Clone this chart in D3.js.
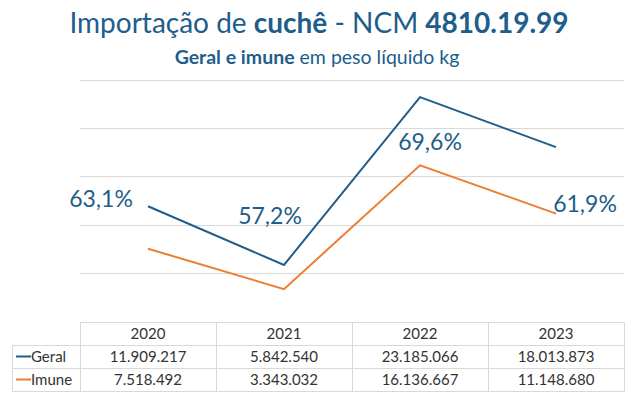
<!DOCTYPE html>
<html>
<head>
<meta charset="utf-8">
<script src="https://cdn.jsdelivr.net/npm/d3@7"></script>
<style>
  body { margin: 0; background: #fff; }
  svg { font-family: Lato, "Open Sans", sans-serif; }
</style>
</head>
<body>
<div id="chart"></div>
<script>
const years = ["2020", "2021", "2022", "2023"];
const geral = [11909217, 5842540, 23185066, 18013873];
const imune = [7518492, 3343032, 16136667, 11148680];
const pctLabels = ["63,1%", "57,2%", "69,6%", "61,9%"];
const yTicks = [0, 5000000, 10000000, 15000000, 20000000, 25000000];

// where each percentage label sits, relative to a point of a series
const labelPos = [
  { s: "geral", dx: -47, dy: 1 },
  { s: "geral", dx: -14, dy: -41 },
  { s: "imune", dx: 10, dy: -15 },
  { s: "imune", dx: 29, dy: -2 }
];

const blue = "#215d8a";
const orange = "#ed7d31";
const grid = "#d9d9d9";

const width = 634, height = 395;

const svg = d3.select("#chart").append("svg")
  .attr("width", width)
  .attr("height", height);

const x = d3.scaleBand()
  .domain(years)
  .range([80, 624]);

const y = d3.scaleLinear()
  .domain([0, 25000000])
  .range([321.5, 79.5]);

const fmt = d3.formatLocale({ decimal: ",", thousands: ".", grouping: [3], currency: ["", ""] }).format(",d");

// title
const title = svg.append("text")
  .attr("x", 319)
  .attr("y", 33)
  .attr("text-anchor", "middle")
  .attr("fill", blue)
  .style("font-size", "28px");
title.append("tspan").text("Importação de ");
title.append("tspan").attr("font-weight", "bold").text("cuchê");
title.append("tspan").text(" - NCM ");
title.append("tspan").attr("font-weight", "bold").text("4810.19.99");

const sub = svg.append("text")
  .attr("x", 317)
  .attr("y", 64)
  .attr("text-anchor", "middle")
  .attr("fill", blue)
  .style("font-size", "19.5px");
sub.append("tspan").attr("font-weight", "bold").text("Geral e imune");
sub.append("tspan").text(" em peso líquido kg");

// gridlines
svg.append("g")
  .selectAll("line")
  .data(yTicks)
  .enter()
  .append("line")
  .attr("x1", 80)
  .attr("x2", 624)
  .attr("y1", d => Math.round(y(d)) + 0.5)
  .attr("y2", d => Math.round(y(d)) + 0.5)
  .attr("stroke", grid)
  .attr("stroke-width", 1);

const cx = d => x(d) + x.bandwidth() / 2;

const line = d3.line()
  .x((d, i) => cx(years[i]))
  .y(d => y(d));

svg.append("path")
  .datum(imune)
  .attr("d", line)
  .attr("fill", "none")
  .attr("stroke", orange)
  .attr("stroke-width", 2);

svg.append("path")
  .datum(geral)
  .attr("d", line)
  .attr("fill", "none")
  .attr("stroke", blue)
  .attr("stroke-width", 2);

// percentage labels
svg.append("g")
  .selectAll("text")
  .data(pctLabels)
  .enter()
  .append("text")
  .attr("x", (d, i) => cx(years[i]) + labelPos[i].dx)
  .attr("y", (d, i) => y(labelPos[i].s === "geral" ? geral[i] : imune[i]) + labelPos[i].dy)
  .attr("text-anchor", "middle")
  .attr("fill", blue)
  .style("font-size", "23px")
  .text(d => d);

// data table
const rowTop = [322, 345, 368];
const rowH = 23;
const tbl = svg.append("g")
  .attr("stroke", grid)
  .attr("fill", "none");

// header border (no cell above row labels)
tbl.append("line").attr("x1", 80).attr("x2", 624).attr("y1", 322.5).attr("y2", 322.5);
tbl.append("line").attr("x1", 12).attr("x2", 624).attr("y1", 345.5).attr("y2", 345.5);
tbl.append("line").attr("x1", 12).attr("x2", 624).attr("y1", 368.5).attr("y2", 368.5);
tbl.append("line").attr("x1", 12).attr("x2", 624).attr("y1", 391.5).attr("y2", 391.5);
tbl.append("line").attr("x1", 12.5).attr("x2", 12.5).attr("y1", 345).attr("y2", 391.5);
tbl.selectAll(".v")
  .data(years.map(d => x(d)).concat([624]))
  .enter()
  .append("line")
  .attr("x1", d => Math.round(d) + 0.5)
  .attr("x2", d => Math.round(d) + 0.5)
  .attr("y1", 322)
  .attr("y2", 391.5);

const cellFont = "15px";
const cellColor = "#333";

svg.append("g")
  .selectAll("text")
  .data(years)
  .enter()
  .append("text")
  .attr("x", d => cx(d))
  .attr("y", rowTop[0] + 17)
  .attr("text-anchor", "middle")
  .attr("fill", cellColor)
  .style("font-size", cellFont)
  .text(d => d);

const rows = [
  { name: "Geral", color: blue, values: geral },
  { name: "Imune", color: orange, values: imune }
];

rows.forEach((r, k) => {
  const top = rowTop[k + 1];
  svg.append("line")
    .attr("x1", 16)
    .attr("x2", 31)
    .attr("y1", top + rowH / 2)
    .attr("y2", top + rowH / 2)
    .attr("stroke", r.color)
    .attr("stroke-width", 2);
  svg.append("text")
    .attr("x", 31)
    .attr("y", top + 17)
    .attr("fill", cellColor)
    .style("font-size", cellFont)
    .text(r.name);
  svg.append("g")
    .selectAll("text")
    .data(r.values)
    .enter()
    .append("text")
    .attr("x", (d, i) => cx(years[i]))
    .attr("y", top + 17)
    .attr("text-anchor", "middle")
    .attr("fill", cellColor)
    .style("font-size", cellFont)
    .text(d => fmt(d));
});
</script>
</body>
</html>
